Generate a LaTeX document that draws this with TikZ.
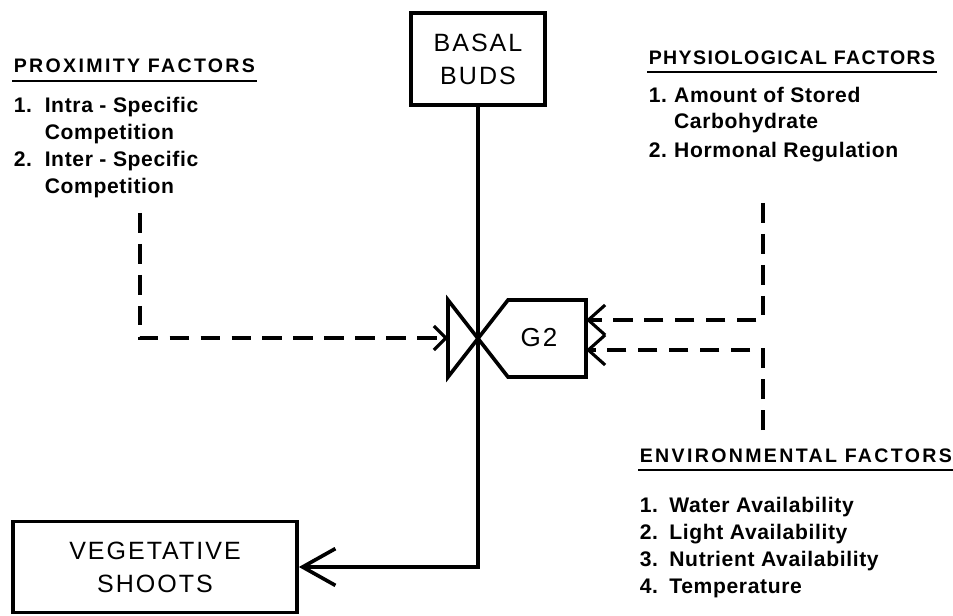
\documentclass[tikz,border=0pt]{standalone}
\usepackage{fontspec}
\setmainfont{Liberation Sans}
\newfontfamily\headfont{Liberation Sans}[LetterSpace=12]
\newfontfamily\narrowhead{Liberation Sans}[LetterSpace=7]
\newfontfamily\listfont{Liberation Sans}[LetterSpace=3]
\newfontfamily\boxfont{Liberation Sans}[LetterSpace=8]
\usetikzlibrary{arrows.meta}

\begin{document}
\begin{tikzpicture}[x=0.025cm,y=-0.025cm,line width=2.6pt,line join=miter,
  box/.style={draw,minimum width=3.35cm,minimum height=2.3cm,align=center,
    font=\boxfont\fontsize{17.8}{23.5}\selectfont},
  head/.style={inner sep=0,anchor=base west,font=\headfont\bfseries\fontsize{13.9}{19}\selectfont},
  items/.style={inner sep=0,anchor=base west,font=\listfont\bfseries\fontsize{15}{19.2}\selectfont},
  dashline/.style={line width=2.2pt,dash pattern=on 14pt off 8pt},
  bigbarb/.style={-{Straight Barb[length=0.82cm,width=0.92cm]}},
  smallbarb/.style={-{Straight Barb[length=0.42cm,width=0.75cm]}},
  tinybarb/.style={-{Straight Barb[length=0.3cm,width=0.6cm]}}]
\useasboundingbox (0,0) rectangle (953,616);

\node[box] (basal) at (478,59) {BASAL\\BUDS};
\node[box,minimum width=7.1cm,minimum height=2.28cm] (veg) at (155,567) {VEGETATIVE\\SHOOTS};

\coordinate (apex) at (478,338);
\coordinate (tri) at (448,338);
\coordinate (gin1) at (586,320);
\coordinate (gin2) at (586,350);
\draw (448,300) -- (448,377) -- (508,300) -- (586,300) -- (586,377) -- (508,377) -- cycle;
\node[font=\boxfont\fontsize{18.5}{20}\selectfont] (g2) at (539,338) {G2};

\draw[bigbarb] (basal.south) |- (veg.east);

\node[head] (proxhead) at (12,73) {PROXIMITY FACTORS};
\draw[line width=1.6pt] ([yshift=-5.5pt]proxhead.base west) -- ([yshift=-5.5pt]proxhead.base east);
\node[items] (prox) at (12,113) {\begin{tabular}[t]{@{}p{22pt}@{}l@{}}
1. & Intra - Specific\\ & Competition\\ 2. & Inter - Specific\\ & Competition\end{tabular}};

\node[head,font=\narrowhead\bfseries\fontsize{13.9}{19}\selectfont] (physhead) at (647,65) {PHYSIOLOGICAL FACTORS};
\draw[line width=1.6pt] ([yshift=-5pt]physhead.base west) -- ([yshift=-5pt]physhead.base east);
\node[items,font=\listfont\bfseries\fontsize{15}{17.8}\selectfont] (phys) at (647,103) {\begin{tabular}[t]{@{}p{18pt}@{}l@{}}
1. & Amount of Stored\\ & Carbohydrate\\[3.5pt] 2. & Hormonal Regulation\end{tabular}};

\node[head] (envhead) at (638,462) {ENVIRONMENTAL FACTORS};
\draw[line width=1.6pt] ([yshift=-5.5pt]envhead.base west) -- ([yshift=-5.5pt]envhead.base east);
\node[items] (env) at (638,512) {\begin{tabular}[t]{@{}p{21pt}@{}l@{}}
1. & Water Availability\\ 2. & Light Availability\\ 3. & Nutrient Availability\\ 4. & Temperature\end{tabular}};

\coordinate (proxend) at (140,213);
\coordinate (physend) at (763,203);
\coordinate (envend) at (763,430);
\draw[dashline,tinybarb] (proxend) |- (tri);
\draw[dashline,smallbarb] (physend) |- (gin1);
\draw[dashline,smallbarb] (envend) |- (gin2);
\end{tikzpicture}
\end{document}
